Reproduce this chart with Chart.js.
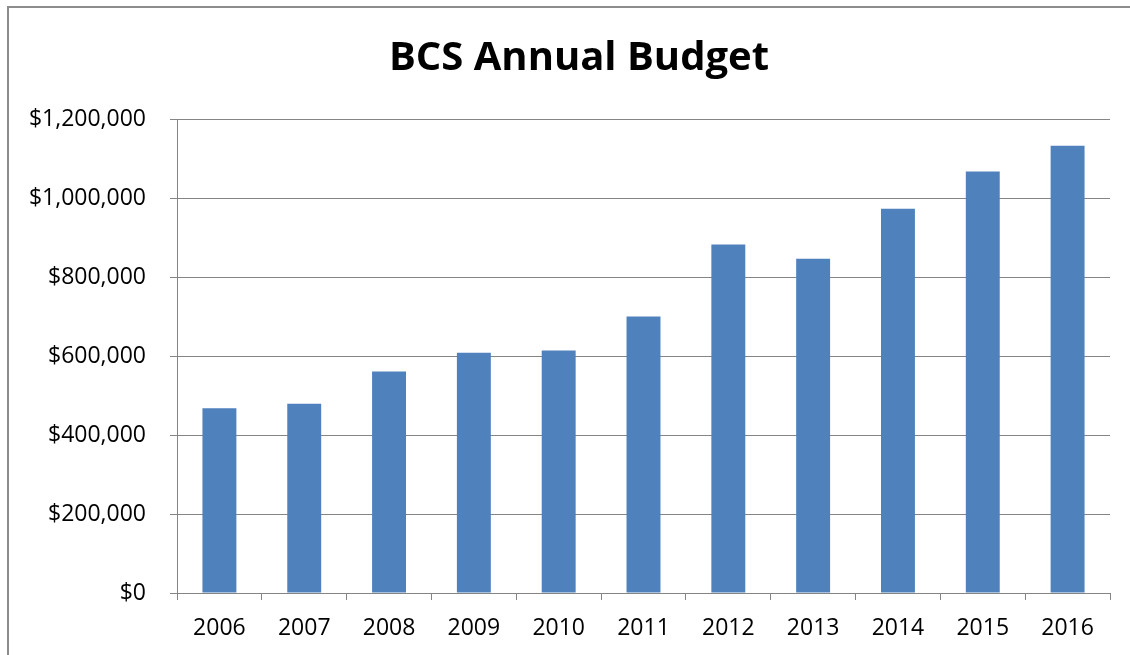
<!DOCTYPE html>
<html>
<head>
<meta charset="utf-8">
<script src="https://cdn.jsdelivr.net/npm/chart.js@4/dist/chart.umd.min.js"></script>
<style>
  html, body { margin: 0; padding: 0; background: #fff; overflow: hidden; }
  #wrap { position: relative; width: 1130px; height: 655px; }
  #frame { position: absolute; left: 7px; top: 6px; width: 1200px; height: 800px;
           border-left: 2px solid #8c8c8c; border-top: 2px solid #8c8c8c; pointer-events: none; }
  canvas { position: absolute; left: 0; top: 0; }
</style>
</head>
<body>
<div id="wrap">
  <canvas id="c" width="1130" height="655"></canvas>
  <div id="frame"></div>
</div>
<script>
const years = ["2006","2007","2008","2009","2010","2011","2012","2013","2014","2015","2016"];
const budget = [468000, 479000, 561000, 608000, 614000, 700000, 882000, 846000, 973000, 1067000, 1132000];
const yTicks = [0, 200000, 400000, 600000, 800000, 1000000, 1200000];
const chartTitle = "BCS Annual Budget";

const FONT = "'Open Sans', 'Liberation Sans', sans-serif";
const fmt = v => "$" + v.toLocaleString("en-US");

const shiftTitle = {
  id: "shiftTitle",
  afterLayout(chart) {
    const t = chart.titleBlock;
    if (t) { t.left = 48; t.right = 1110; t.width = t.right - t.left; }
  }
};

new Chart(document.getElementById("c"), {
  type: "bar",
  data: {
    labels: years,
    datasets: [{
      data: budget,
      backgroundColor: "#4f81bd",
      borderWidth: 0,
      categoryPercentage: 1.0,
      barPercentage: 0.4
    }]
  },
  plugins: [shiftTitle],
  options: {
    responsive: false,
    animation: false,
    layout: { padding: { left: 0, right: 20, top: 0, bottom: 0 } },
    plugins: {
      legend: { display: false },
      tooltip: { enabled: false },
      title: {
        display: true,
        text: chartTitle,
        color: "#000",
        font: { family: FONT, size: 40, weight: "bold", lineHeight: 1.2 },
        padding: { top: 35, bottom: 36 }
      }
    },
    scales: {
      x: {
        offset: true,
        grid: { display: true, offset: true, drawOnChartArea: false, drawTicks: true, tickLength: 7, color: "#858585", lineWidth: 1 },
        border: { display: true, color: "#858585", width: 1 },
        ticks: { color: "#000", font: { family: FONT, size: 23 }, padding: 15, maxRotation: 0, autoSkip: false },
        afterFit: s => { s.height = 62; }
      },
      y: {
        min: 0,
        max: 1200000,
        afterBuildTicks: s => { s.ticks = yTicks.map(v => ({ value: v })); },
        grid: { color: "#858585", lineWidth: 1, tickLength: 7, drawTicks: true },
        border: { display: true, color: "#858585", width: 1 },
        ticks: { color: "#000", font: { family: FONT, size: 23 }, padding: 24, callback: v => fmt(v) },
        afterFit: s => { s.width = 177; }
      }
    }
  }
});
</script>
</body>
</html>
